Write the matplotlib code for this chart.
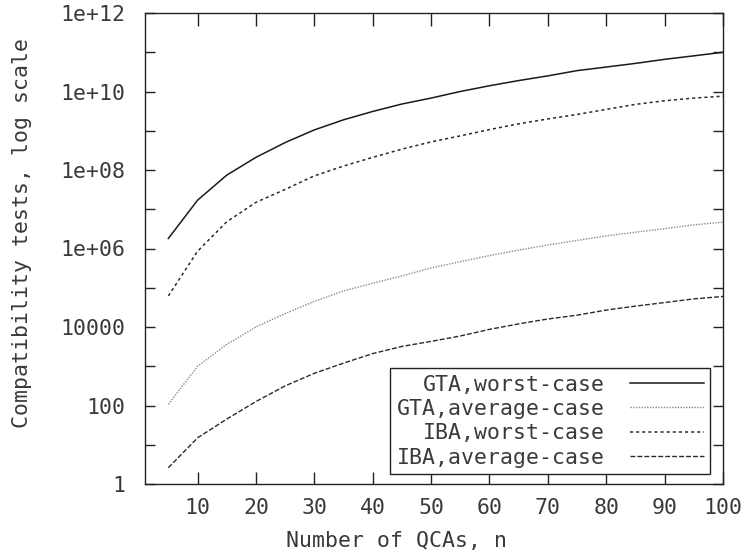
import matplotlib
matplotlib.use("Agg")
import matplotlib.pyplot as plt
from matplotlib.ticker import FixedLocator, NullFormatter, FixedFormatter

n_qcas = [5, 10, 15, 20, 25, 30, 35, 40, 45, 50, 55, 60, 65, 70, 75, 80, 85, 90, 95, 100]

gta_worst = [1.8e6, 1.7e7, 7.4e7, 2.1e8, 5.0e8, 1.05e9, 1.9e9, 3.1e9, 4.8e9, 6.8e9,
             1.0e10, 1.4e10, 1.9e10, 2.5e10, 3.4e10, 4.2e10, 5.2e10, 6.6e10, 8.1e10, 1.0e11]
iba_worst = [6.2e4, 8.5e5, 4.8e6, 1.5e7, 3.2e7, 7.1e7, 1.26e8, 2.1e8, 3.4e8, 5.2e8,
             7.4e8, 1.07e9, 1.5e9, 2.0e9, 2.6e9, 3.5e9, 4.7e9, 5.8e9, 6.8e9, 7.6e9]
gta_average = [107, 1.0e3, 3.6e3, 1.0e4, 2.2e4, 4.5e4, 8.3e4, 1.3e5, 2.0e5, 3.2e5,
               4.6e5, 6.6e5, 9.1e5, 1.23e6, 1.6e6, 2.1e6, 2.6e6, 3.2e6, 4.0e6, 4.7e6]
iba_average = [2.6, 15, 45, 126, 316, 660, 1200, 2100, 3200, 4300,
               5900, 8700, 1.2e4, 1.6e4, 2.0e4, 2.7e4, 3.4e4, 4.2e4, 5.2e4, 6.0e4]

x_ticks = [10, 20, 30, 40, 50, 60, 70, 80, 90, 100]
y_ticks = [1, 1e2, 1e4, 1e6, 1e8, 1e10, 1e12]
y_tick_labels = ["1", "100", "10000", "1e+06", "1e+08", "1e+10", "1e+12"]
y_minor = [1e1, 1e3, 1e5, 1e7, 1e9, 1e11]

FONT = "DejaVu Sans Mono"
TXT = "#3a3a3a"
FS = 15.5

fig = plt.figure(figsize=(7.48, 5.6), dpi=100)
W, H = 748, 560
L, R, T, B = 145, 723, 13, 484
ax = fig.add_axes([L / W, 1 - B / H, (R - L) / W, (B - T) / H])

ax.plot(n_qcas, gta_worst, color="#1a1a1a", lw=1.1, ls="-", label="GTA,worst-case")
ax.plot(n_qcas, gta_average, color="#8a8a8a", lw=1.0, ls=(0, (1, 1)), label="GTA,average-case")
ax.plot(n_qcas, iba_worst, color="#2a2a2a", lw=1.1, ls=(0, (2, 2)), label="IBA,worst-case")
ax.plot(n_qcas, iba_average, color="#2a2a2a", lw=1.0, ls=(0, (3.5, 1.5)), label="IBA,average-case")

ax.set_yscale("log")
ax.set_xlim(1, 100)
ax.set_ylim(1, 1e12)

ax.xaxis.set_major_locator(FixedLocator(x_ticks))
ax.yaxis.set_major_locator(FixedLocator(y_ticks))
ax.yaxis.set_major_formatter(FixedFormatter(y_tick_labels))
ax.yaxis.set_minor_locator(FixedLocator(y_minor))
ax.yaxis.set_minor_formatter(NullFormatter())

ax.tick_params(axis="both", which="both", direction="in", top=True, right=True,
               length=7, width=1.0, color="#222222")
ax.tick_params(axis="x", which="major", length=9, pad=10, labelsize=FS, labelcolor=TXT)
ax.tick_params(axis="y", which="major", pad=14, labelsize=FS, labelcolor=TXT)
for lab in ax.get_xticklabels() + ax.get_yticklabels():
    lab.set_fontfamily(FONT)

for s in ax.spines.values():
    s.set_linewidth(1.0)
    s.set_color("#222222")

ax.set_xlabel("Number of QCAs, n", fontsize=FS, family=FONT, color=TXT)
ax.xaxis.set_label_coords((397 - L) / (R - L), (B - 531) / (B - T))
ax.set_ylabel("Compatibility tests, log scale", fontsize=FS, family=FONT, color=TXT)
ax.yaxis.set_label_coords((32 - L) / (R - L), (B - 233) / (B - T))

leg = ax.legend(loc="lower right", bbox_to_anchor=((710 - L) / (R - L), (B - 474) / (B - T)),
                markerfirst=False, frameon=True, fancybox=False, framealpha=1,
                edgecolor="#222222", prop={"family": FONT, "size": FS},
                handlelength=3.4, handletextpad=1.2, labelspacing=0.2,
                borderpad=0.3, borderaxespad=0.0)
leg.get_frame().set_linewidth(1.0)
for t in leg.get_texts():
    t.set_color(TXT)

fig.savefig("out.png", dpi=100)
